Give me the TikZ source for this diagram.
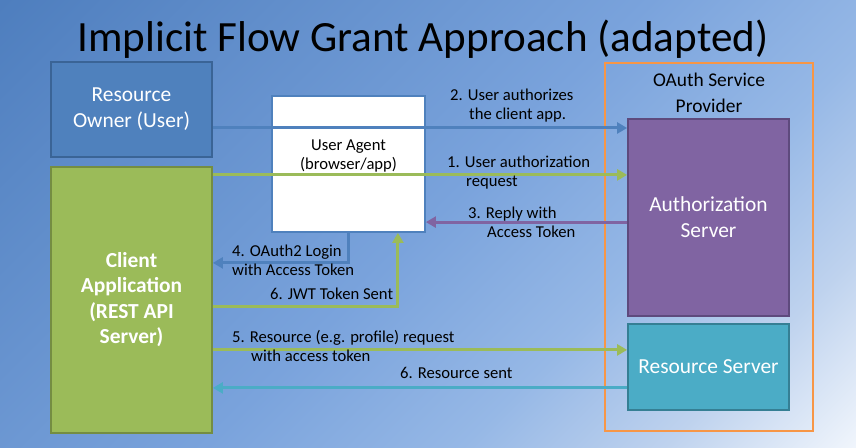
\documentclass[tikz,border=0pt]{standalone}
\usepackage{fontspec}
\setmainfont{Carlito}
\usetikzlibrary{arrows.meta, positioning}
\definecolor{bgdark}{RGB}{78,126,190}
\definecolor{bgmid}{RGB}{122,163,220}
\definecolor{bgsoft}{RGB}{150,184,230}
\definecolor{bgpale}{RGB}{190,210,238}
\definecolor{bglight}{RGB}{240,245,252}
\definecolor{ownerblue}{HTML}{4F81BD}
\definecolor{ownerline}{HTML}{3A6496}
\definecolor{clientgreen}{HTML}{9BBB59}
\definecolor{clientline}{HTML}{748D42}
\definecolor{authpurple}{HTML}{8064A2}
\definecolor{authline}{HTML}{5E4A7D}
\definecolor{rsteal}{HTML}{4BACC6}
\definecolor{rsline}{HTML}{357F94}
\definecolor{provorange}{HTML}{F79646}
\pgfdeclareverticalshading{slidebg}{100bp}{color(0bp)=(bglight); color(14.6bp)=(bglight);
  color(25bp)=(bgpale); color(36bp)=(bgsoft); color(50bp)=(bgmid);
  color(85.4bp)=(bgdark); color(100bp)=(bgdark)}

\begin{document}
\begin{tikzpicture}[
  x=1bp, y=-1bp,
  box/.style={draw, line width=1.8bp, align=center, inner sep=0pt, text=white,
              minimum width=161bp, font=\fontsize{21.5}{26}\selectfont},
  lbl/.style={anchor=base west, inner sep=0pt, align=left,
              font=\fontsize{16.7}{20}\selectfont},
  flow/.style={line width=3bp, -{Triangle[length=10bp, width=11bp]}}
]
  % Slide background
  \shade[shading=slidebg, shading angle=45] (0,0) rectangle (856,448);

  % Title
  \node[anchor=base, inner sep=0pt, font=\fontsize{43.3}{50}\selectfont]
    (title) at (423,52) {Implicit Flow Grant Approach (adapted)};

  % Left: owner and client
  \node[box, fill=ownerblue, draw=ownerline, minimum height=95bp]
    (owner) at (131.5,109.5) {Resource\\Owner (User)};
  \node[box, fill=clientgreen, draw=clientline, minimum height=266bp,
        font=\fontsize{21.5}{25.6}\selectfont\bfseries,
        below=8bp of owner.south west, anchor=north west]
    (client) {Client\\Application\\(REST API\\Server)};

  % Middle: user agent
  \node[box, fill=white, draw=ownerblue, minimum width=153bp, minimum height=136bp]
    (agent) at (348.5,164) {};
  \node[inner sep=0pt, align=center, font=\fontsize{16.7}{19}\selectfont]
    (agenttext) at ([yshift=8bp]agent.center) {User Agent\\(browser/app)};

  % Right: service provider
  \node[draw=provorange, line width=2bp, minimum width=208bp, minimum height=368bp,
        inner sep=0pt] (provider) at (709,247) {};
  \node[inner sep=0pt, align=center, anchor=north, font=\fontsize{19.5}{26}\selectfont]
    (provtitle) at ([yshift=-11bp]provider.north) {OAuth Service\\Provider};
  \node[box, fill=authpurple, draw=authline, minimum height=197bp]
    (auth) at (708.5,217.5) {Authorization\\Server};
  \node[box, fill=rsteal, draw=rsline, minimum height=86bp, below=6bp of auth]
    (rs) {Resource Server};

  % Connector ends
  \coordinate (f2) at ([yshift=-18.5bp]owner.east);
  \coordinate (f1) at ([yshift=-9bp]client.north east);
  \coordinate (f3) at ([yshift=-104bp]auth.north west);
  \coordinate (f4) at ([yshift=-97bp]client.north east);
  \coordinate (f6a) at ([yshift=-141bp]client.north east);
  \coordinate (f5) at ([yshift=-184bp]client.north east);
  \coordinate (f6b) at ([yshift=-65bp]rs.north west);

  % Flows
  \draw[flow, ownerblue] (f2) -- (f2 -| auth.west);
  \draw[flow, clientgreen] (f1) -- (f1 -| auth.west);
  \draw[flow, authpurple] (f3) -- (f3 -| agent.east);
  \draw[flow, ownerblue] (agent.south) |- (f4);
  \draw[flow, clientgreen] (f6a) -| ([xshift=-28bp]agent.south east);
  \draw[flow, clientgreen] (f5) -- (f5 -| rs.west);
  \draw[flow, rsteal] (f6b) -- (f6b -| client.east);

  % Flow labels (base = last line)
  \node[lbl] (l2) at (450,120) {2. User authorizes\\\hspace*{19bp}the client app.};
  \node[lbl] (l1) at (447,187) {1. User authorization\\\hspace*{19bp}request};
  \node[lbl] (l3) at (468,238) {3. Reply with\\\hspace*{19bp}Access Token};
  \node[lbl] (l4) at (232,276) {4. OAuth2 Login\\with Access Token};
  \node[lbl] (lj) at (270,300) {6. JWT Token Sent};
  \node[lbl] (l5) at (232,362) {5. Resource (e.g. profile) request\\\hspace*{19bp}with access token};
  \node[lbl] (l6) at (400,379) {6. Resource sent};
\end{tikzpicture}
\end{document}
